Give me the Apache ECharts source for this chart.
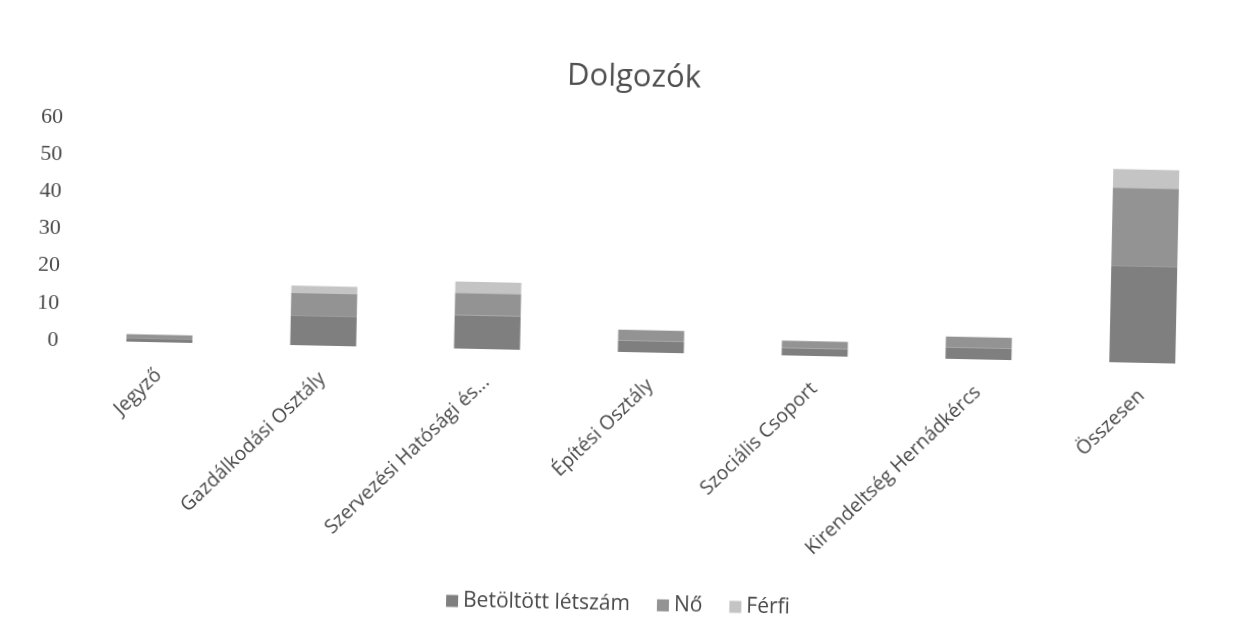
<!DOCTYPE html>
<html>
<head>
<meta charset="utf-8">
<script src="https://cdn.jsdelivr.net/npm/echarts@6/dist/echarts.min.js"></script>
<style>
  html, body { margin: 0; padding: 0; background: #fff; overflow: hidden; }
  #chart { width: 1248px; height: 638px; transform: rotate(1.2deg); transform-origin: 624px 319px; }
</style>
</head>
<body>
<div id="chart"></div>
<script>
const categories = ['Jegyző', 'Gazdálkodási Osztály', 'Szervezési Hatósági és...', 'Építési Osztály', 'Szociális Csoport', 'Kirendeltség Hernádkércs', 'Összesen'];
const betoltott = [1, 8, 9, 3, 2, 3, 26];
const no = [1, 6, 6, 3, 2, 3, 21];
const ferfi = [0, 2, 3, 0, 0, 0, 5];
const yTicks = [0, 10, 20, 30, 40, 50, 60];

const chart = echarts.init(document.getElementById('chart'), null, { renderer: 'canvas' });
const textColor = '#484848';
chart.setOption({
  backgroundColor: '#ffffff',
  animation: false,
  title: {
    text: 'Dolgozók',
    left: 624, top: 57,
    textAlign: 'center',
    textStyle: { fontFamily: 'Open Sans', fontSize: 31, fontWeight: 'normal', color: '#505050' }
  },
  legend: {
    data: ['Betöltött létszám', 'Nő', 'Férfi'],
    left: 'center', top: 589,
    itemWidth: 12, itemHeight: 12, itemGap: 27,
    icon: 'rect',
    textStyle: { fontFamily: 'Open Sans', fontSize: 21, color: textColor }
  },
  grid: { left: 78, right: 23, top: 129, bottom: 286, containLabel: false },
  xAxis: {
    type: 'category',
    data: categories,
    axisLine: { show: false },
    axisTick: { show: false },
    axisLabel: {
      rotate: 45, interval: 0, margin: 30,
      fontFamily: 'Open Sans', fontSize: 19.5, color: textColor
    }
  },
  yAxis: {
    type: 'value',
    min: yTicks[0], max: yTicks[yTicks.length - 1], interval: 10,
    splitLine: { show: false },
    axisLine: { show: false },
    axisTick: { show: false },
    axisLabel: { margin: 19, fontFamily: 'Liberation Serif', fontSize: 22, color: textColor }
  },
  series: [
    { name: 'Betöltött létszám', type: 'bar', stack: 'a', barWidth: 66, data: betoltott, itemStyle: { color: '#7f7f7f' } },
    { name: 'Nő', type: 'bar', stack: 'a', barWidth: 66, data: no, itemStyle: { color: '#939393' } },
    { name: 'Férfi', type: 'bar', stack: 'a', barWidth: 66, data: ferfi, itemStyle: { color: '#c4c4c4' } }
  ]
});
</script>
</body>
</html>
